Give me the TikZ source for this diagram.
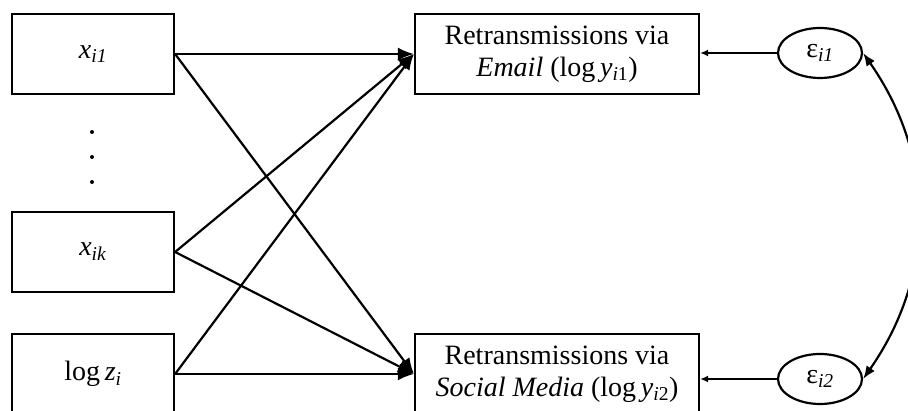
\documentclass[tikz,border=0pt]{standalone}
\usepackage{fontspec}
\setmainfont{Liberation Serif}
\usepackage{tikz}
\usetikzlibrary{positioning,shapes.geometric,arrows.meta}

\begin{document}
\begin{tikzpicture}[x=1pt, y=1pt, line width=2.2pt, >={Latex[length=16pt,width=13pt]},
  font=\fontsize{28}{32}\selectfont,
  xbox/.style={draw, minimum width=162pt, minimum height=80pt, inner sep=0pt},
  ybox/.style={draw, minimum width=284pt, minimum height=80pt, align=center, inner sep=0pt},
  err/.style={draw, ellipse, minimum width=84pt, minimum height=50pt, inner sep=0pt},
  small/.style={-{Latex[length=8pt,width=7pt]}}]
\useasboundingbox (0,0) rectangle (908,411);
% predictors
\node[xbox] (x1) at (93,357) {\textit{x}\textsubscript{\textit{i1}}};
\node[xbox] (xk) at (93,159) {\textit{x}\textsubscript{\textit{ik}}};
\node[xbox] (z) at (93,37) {log\,\textit{z}\textsubscript{\textit{i}}};
\foreach \y in {279,254,229} \fill (92,\y) circle (2pt);
% outcomes
\node[ybox] (email) at (557,357) {Retransmissions via\\\textit{Email} (log\,\textit{y}\textsubscript{\textit{i}1})};
\node[ybox] (social) at (557,37) {Retransmissions via\\\textit{Social Media} (log\,\textit{y}\textsubscript{\textit{i}2})};
% errors
\node[err] (e1) at (820,358) {ε\textsubscript{\textit{i1}}};
\node[err] (e2) at (820,32) {ε\textsubscript{\textit{i2}}};
% paths
\foreach \s in {x1,xk,z} {
  \draw[->] (\s.east) -- (email.west);
  \draw[->] (\s.east) -- (social.west);
}
\draw[small] (e1.west) -- (email.east |- e1.west);
\draw[small] (e2.west) -- (social.east |- e2.west);
\draw[{Latex[length=13pt,width=10pt]}-{Latex[length=13pt,width=10pt]}] (e1.east) to[bend left=35] (e2.east);
\end{tikzpicture}
\end{document}
